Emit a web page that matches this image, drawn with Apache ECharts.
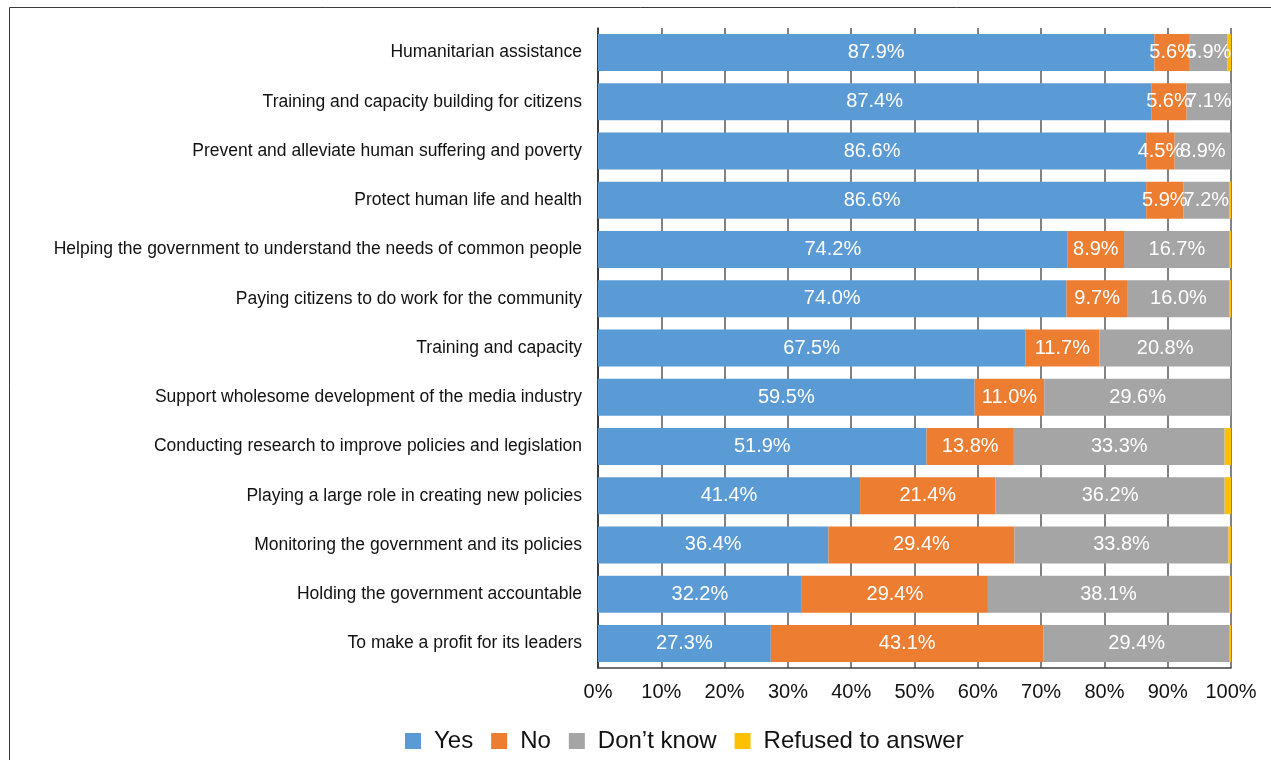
<!DOCTYPE html>
<html>
<head>
<meta charset="utf-8">
<script src="https://cdn.jsdelivr.net/npm/echarts@6/dist/echarts.min.js"></script>
<style>
  html, body { margin: 0; padding: 0; background: #fff; }
  #chart { width: 1271px; height: 760px; }
</style>
</head>
<body>
<div id="chart"></div>
<script>
// Survey: what roles should organisations play (share of respondents, %)
const categories = [
  'Humanitarian assistance',
  'Training and capacity building for citizens',
  'Prevent and alleviate human suffering and poverty',
  'Protect human life and health',
  'Helping the government to understand the needs of common people',
  'Paying citizens to do work for the community',
  'Training and capacity',
  'Support wholesome development of the media industry',
  'Conducting research to improve policies and legislation',
  'Playing a large role in creating new policies',
  'Monitoring the government and its policies',
  'Holding the government accountable',
  'To make a profit for its leaders'
];
const yesValues      = [87.9, 87.4, 86.6, 86.6, 74.2, 74.0, 67.5, 59.5, 51.9, 41.4, 36.4, 32.2, 27.3];
const noValues       = [5.6, 5.6, 4.5, 5.9, 8.9, 9.7, 11.7, 11.0, 13.8, 21.4, 29.4, 29.4, 43.1];
const dontKnowValues = [5.9, 7.1, 8.9, 7.2, 16.7, 16.0, 20.8, 29.6, 33.3, 36.2, 33.8, 38.1, 29.4];
const refusedValues  = [0.6, 0.0, 0.0, 0.3, 0.2, 0.3, 0.0, 0.0, 1.0, 1.0, 0.4, 0.3, 0.2];
const seriesNames = ['Yes', 'No', 'Don\u2019t know', 'Refused to answer'];
const tickValues = [0, 10, 20, 30, 40, 50, 60, 70, 80, 90, 100];

const colors = ['#5B9BD5', '#ED7D31', '#A5A5A5', '#FFC000'];
const labelFont = 'Liberation Sans, Arial, sans-serif';

function barSeries(name, data, color, showLabel) {
  return {
    name: name,
    type: 'bar',
    stack: 'total',
    data: data,
    barWidth: 37,
    itemStyle: { color: color },
    label: {
      show: showLabel,
      position: 'inside',
      color: '#fff',
      fontFamily: labelFont,
      fontSize: 20,
      formatter: p => p.value.toFixed(1) + '%'
    },
    emphasis: { disabled: true }
  };
}

const chart = echarts.init(document.getElementById('chart'), null, { renderer: 'canvas' });
chart.setOption({
  animation: false,
  backgroundColor: '#fff',
  color: colors,
  graphic: [{
    type: 'rect',
    shape: { x: 9.5, y: 7.5, width: 1400, height: 900 },
    style: { fill: 'none', stroke: '#3a3a3a', lineWidth: 1 },
    silent: true,
    z: -10
  }],
  grid: { left: 598, right: 40, top: 28, bottom: 92, containLabel: false, outerBoundsMode: 'none' },
  xAxis: {
    type: 'value',
    min: 0,
    max: 100,
    interval: 10,
    axisLine: { show: true, lineStyle: { color: '#404040', width: 1.5 } },
    axisTick: { show: false },
    splitLine: { show: true, lineStyle: { color: '#595959', width: 1.5 } },
    axisLabel: {
      color: '#111',
      fontFamily: labelFont,
      fontSize: 20,
      margin: 14,
      formatter: v => tickValues.includes(v) ? v + '%' : ''
    }
  },
  yAxis: {
    type: 'category',
    data: categories,
    inverse: true,
    axisLine: { show: true, lineStyle: { color: '#1f2430', width: 1.5 } },
    axisTick: { show: false },
    axisLabel: {
      color: '#111',
      fontFamily: labelFont,
      fontSize: 17.5,
      margin: 16
    }
  },
  legend: {
    left: 400,
    top: 724,
    itemWidth: 16,
    itemHeight: 16,
    itemGap: 18,
    icon: 'rect',
    textStyle: { color: '#111', fontFamily: labelFont, fontSize: 24, padding: [0, 0, 0, 8] },
    data: seriesNames
  },
  series: [
    barSeries(seriesNames[0], yesValues, colors[0], true),
    barSeries(seriesNames[1], noValues, colors[1], true),
    barSeries(seriesNames[2], dontKnowValues, colors[2], true),
    barSeries(seriesNames[3], refusedValues, colors[3], false)
  ]
});
</script>
</body>
</html>
